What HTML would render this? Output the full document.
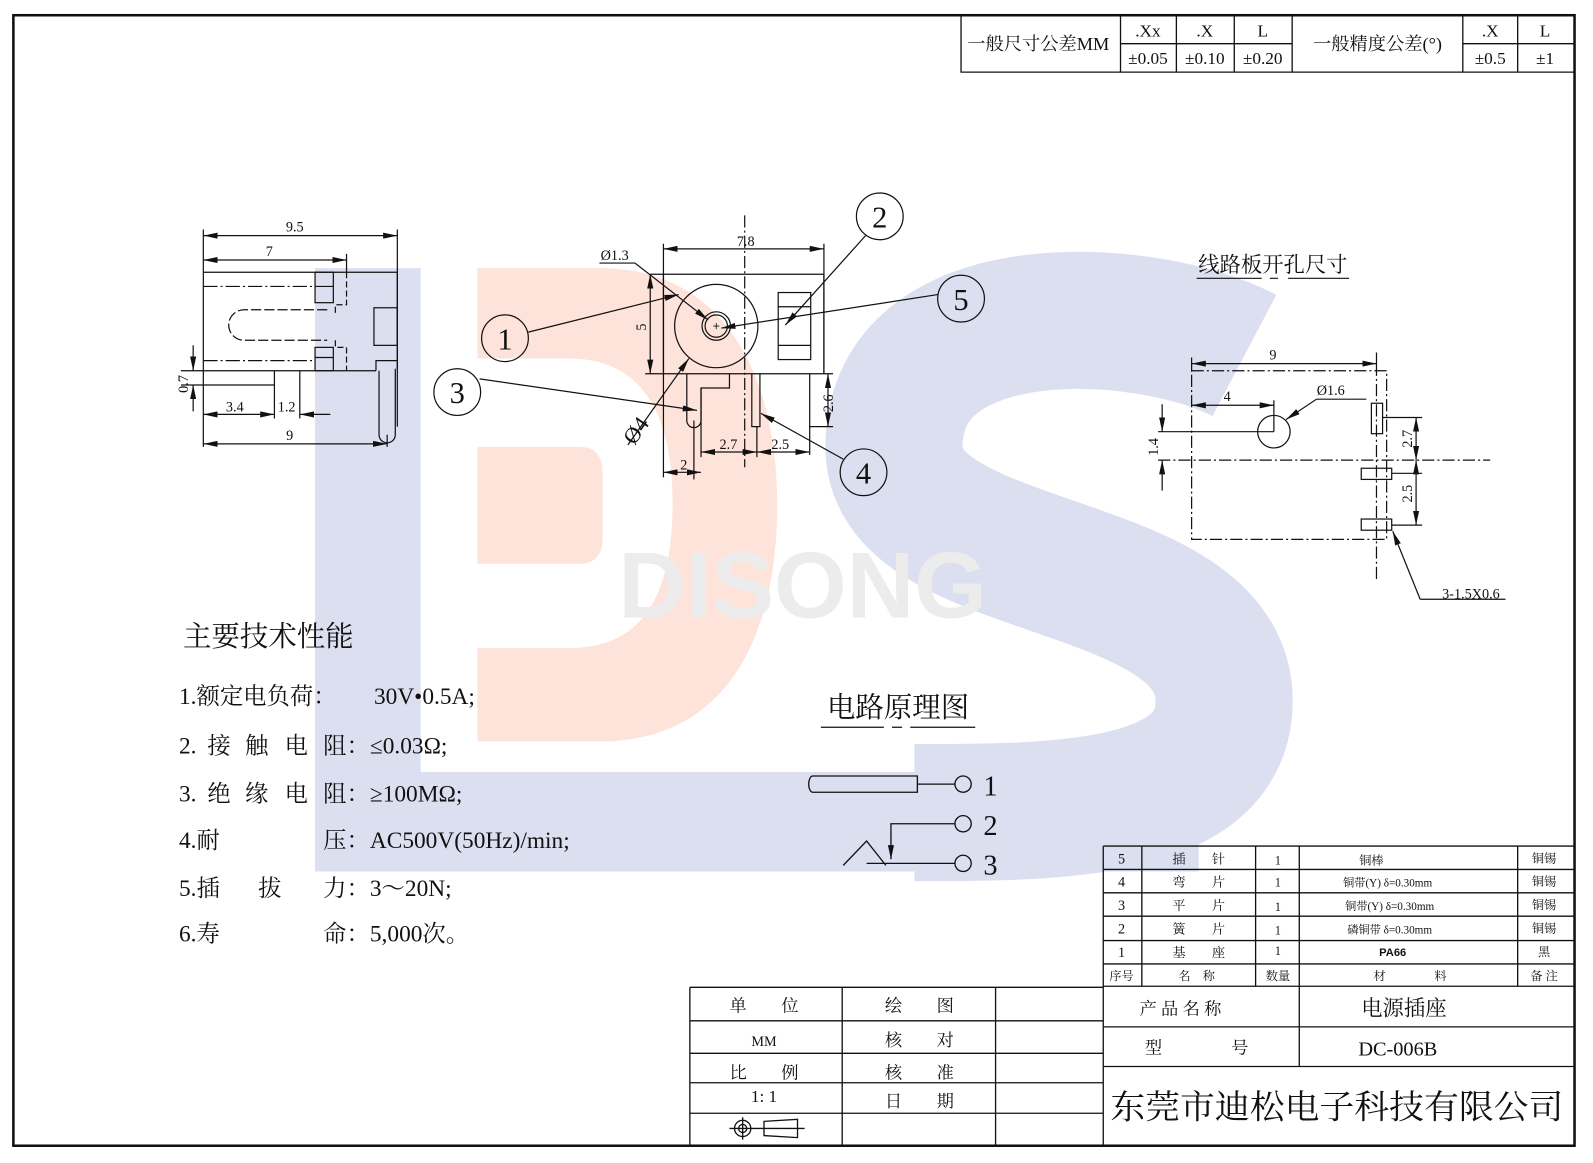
<!DOCTYPE html>
<html><head><meta charset="utf-8"><style>
html,body{margin:0;padding:0;background:#fff;}
svg{display:block;}
text{font-family:"Liberation Serif","Noto Serif CJK SC","Noto Sans CJK SC",serif;fill:#111;}
.c{font-family:"Liberation Sans","Noto Sans CJK SC",sans-serif;}
</style></head><body>
<svg width="1593" height="1163" viewBox="0 0 1568 1145" xmlns="http://www.w3.org/2000/svg">
<defs>
<marker id="a" viewBox="0 0 14 6" refX="14" refY="3" markerWidth="14" markerHeight="6" markerUnits="userSpaceOnUse" orient="auto-start-reverse"><path d="M0,0L14,3L0,6Z" fill="#111"/></marker>
</defs>
<!-- watermark -->
<path d="M470,264H590C720,264 765,380 765,497C765,620 720,730 590,730H470Z M470,353H560C640,353 662,420 662,495C662,575 640,638 560,638H470Z" fill="#fde3d9" fill-rule="evenodd"/>
<path d="M470,440H570Q593,440 593,465V530Q593,555 570,555H470Z" fill="#fde3d9"/>
<rect x="310" y="264" width="104" height="594" fill="#dcdff0"/>
<rect x="310" y="760" width="870" height="98" fill="#dcdff0"/>
<path d="M1225,350C1130,300 880,285 880,440C880,570 1205,545 1205,690C1205,800 1040,800 900,800" fill="none" stroke="#dcdff0" stroke-width="135"/>
<text x="790" y="608" font-size="92" text-anchor="middle" class="c" style="fill:#ececec;font-weight:bold">DISONG</text>

<g stroke="#111" fill="none">
<rect x="13" y="15" width="1537" height="1113" stroke-width="2.5"/>
<path d="M946,15V71H1549 M1103,15V71 M1158,15V71 M1215,15V71 M1272,15V71 M1440,15V71 M1494,15V71 M1103,43H1272 M1440,43H1549" stroke-width="1.3"/>
</g>
<g font-size="17" text-anchor="middle">
<text x="1022" y="49" font-size="18">一般尺寸公差MM</text>
<text x="1130" y="36">.Xx</text><text x="1130" y="63">±0.05</text>
<text x="1186" y="36">.X</text><text x="1186" y="63">±0.10</text>
<text x="1243" y="36">L</text><text x="1243" y="63">±0.20</text>
<text x="1356" y="49" font-size="18">一般精度公差(°)</text>
<text x="1467" y="36">.X</text><text x="1467" y="63">±0.5</text>
<text x="1521" y="36">L</text><text x="1521" y="63">±1</text>
</g>

<!-- left side view -->
<g stroke="#111" fill="none" stroke-width="1.2">
<path d="M200,226V440 M391,226V420 M341,250V268"/>
<path d="M200,232H391" marker-start="url(#a)" marker-end="url(#a)"/>
<path d="M200,256H341" marker-start="url(#a)" marker-end="url(#a)"/>
<path d="M200,268H391V363 M200,365H370"/>
<path d="M200,282H310" stroke-dasharray="14,3,2,3"/>
<path d="M200,355H310" stroke-dasharray="14,3,2,3"/>
<path d="M341,268V300H330V310M330,335V342H341V365" stroke-dasharray="6,3"/>
<path d="M322,305H240A15,15 0 0 0 240,335H322" stroke-dasharray="10,3"/>
<rect x="310" y="268" width="18" height="30"/><path d="M310,282H328"/>
<rect x="310" y="342" width="18" height="23"/><path d="M310,352H328"/>
<rect x="368" y="303" width="23" height="37"/>
<path d="M370,365V355H391 M373,365V428A8,8 0 0 0 389,428V363"/>
<path d="M381,428V440"/>
<path d="M270,365V412 M295,365V412"/>
<path d="M178,365H200 M178,379H270"/>
<path d="M190,340V365" marker-end="url(#a)"/><path d="M190,405V379" marker-end="url(#a)"/>
<path d="M200,408H270" marker-start="url(#a)" marker-end="url(#a)"/>
<path d="M325,408H295" marker-end="url(#a)"/>
<path d="M200,437H381" marker-start="url(#a)" marker-end="url(#a)"/>
</g>
<g font-size="14" text-anchor="middle">
<text x="290" y="228">9.5</text><text x="265" y="252">7</text>
<text x="231" y="405">3.4</text><text x="282" y="405">1.2</text>
<text x="285" y="433">9</text>
<text transform="translate(185,378) rotate(-90)">0.7</text>
</g>

<!-- front view -->
<g stroke="#111" fill="none" stroke-width="1.2">
<path d="M653,240V470 M811,240V368"/>
<path d="M653,245H811" marker-start="url(#a)" marker-end="url(#a)"/>
<path d="M733,212V460" stroke-dasharray="12,3,2,3"/>
<path d="M640,270H811V368 M653,270V368 M635,368H820"/>
<path d="M640,270V368" marker-start="url(#a)" marker-end="url(#a)"/>
<circle cx="705" cy="321" r="41"/><circle cx="705" cy="321" r="14"/><circle cx="705" cy="321" r="11"/>
<path d="M702,321H708M705,318V324" stroke-width="0.8"/>
<rect x="766" y="288" width="32" height="66"/><path d="M766,302H798M766,340H798"/>
<path d="M676,368V414A7,7 0 0 0 690,414V382H718V368"/>
<path d="M683,414V472"/>
<path d="M740,368V420H748V368"/>
<path d="M797,368V420H811 M797,420V448 M811,420H820"/>
<path d="M815,368V420" marker-start="url(#a)" marker-end="url(#a)"/>
<path d="M690,382V450 M745,420V450"/>
<path d="M653,465H690" marker-start="url(#a)" marker-end="url(#a)"/>
<path d="M690,445H745" marker-start="url(#a)" marker-end="url(#a)"/>
<path d="M745,445H797" marker-start="url(#a)" marker-end="url(#a)"/>
<path d="M618,438L678,353" marker-end="url(#a)"/>
<path d="M590,259H625L697,315" marker-end="url(#a)"/>
<circle cx="497" cy="333" r="23"/><circle cx="866" cy="213" r="23"/><circle cx="450" cy="386" r="23"/><circle cx="850" cy="465" r="23"/><circle cx="946" cy="294" r="23"/>
<path d="M520,327L668,290" marker-end="url(#a)"/>
<path d="M852,232L773,320" marker-end="url(#a)"/>
<path d="M472,373L686,404" marker-end="url(#a)"/>
<path d="M830,452L749,407" marker-end="url(#a)"/>
<path d="M923,290L710,323" marker-end="url(#a)"/>
</g>
<g font-size="14" text-anchor="middle">
<text x="734" y="242">7.8</text><text x="605" y="256">Ø1.3</text>
<text transform="translate(636,322) rotate(-90)">5</text>
<text x="673" y="462">2</text><text x="717" y="442">2.7</text><text x="768" y="442">2.5</text>
<text transform="translate(820,397) rotate(-90)">2.6</text>
<text transform="translate(632,428) rotate(-55)" font-size="22">Ø4</text>
</g>
<g font-size="30" text-anchor="middle">
<text x="497" y="344">1</text><text x="866" y="224">2</text><text x="450" y="397">3</text><text x="850" y="476">4</text><text x="946" y="305">5</text>
</g>

<!-- PCB layout -->
<text x="1253" y="268" font-size="21" text-anchor="middle">线路板开孔尺寸</text>
<g stroke="#111" fill="none" stroke-width="1.2">
<path d="M1178,274H1242M1250,274H1258M1268,274H1328"/>
<path d="M1173,352V365 M1355,347V358"/>
<path d="M1173,358H1355" marker-start="url(#a)" marker-end="url(#a)"/>
<path d="M1173,365H1365V531H1173Z" stroke-dasharray="12,3,2,3"/>
<path d="M1355,358V570" stroke-dasharray="12,3,2,3"/>
<path d="M1173,399H1254" marker-start="url(#a)" marker-end="url(#a)"/>
<path d="M1254,394V425"/>
<circle cx="1254" cy="425" r="16"/>
<path d="M1140,425H1254"/>
<path d="M1140,453H1467" stroke-dasharray="12,3,2,3"/>
<path d="M1144,398V425" marker-end="url(#a)"/><path d="M1144,483V453" marker-end="url(#a)"/>
<path d="M1345,393H1296L1266,413" marker-end="url(#a)"/>
<rect x="1350" y="397" width="11" height="30"/>
<rect x="1340" y="461" width="30" height="11"/>
<rect x="1340" y="511" width="30" height="11"/>
<path d="M1361,411H1400 M1370,466H1400 M1370,517H1400"/>
<path d="M1394,411V453" marker-start="url(#a)" marker-end="url(#a)"/>
<path d="M1394,453V517" marker-start="url(#a)" marker-end="url(#a)"/>
<path d="M1398,590L1371,523" marker-end="url(#a)"/>
<path d="M1398,590H1482"/>
</g>
<g font-size="14" text-anchor="middle">
<text x="1253" y="354">9</text><text x="1208" y="395">4</text><text x="1310" y="389">Ø1.6</text>
<text transform="translate(1140,440) rotate(-90)">1.4</text>
<text transform="translate(1390,432) rotate(-90)">2.7</text>
<text transform="translate(1390,486) rotate(-90)">2.5</text>
<text x="1448" y="589">3-1.5X0.6</text>
</g>

<!-- spec -->
<text x="180" y="636" font-size="28">主要技术性能</text>
<g font-size="23">
<text x="176" y="693">1.额定电负荷：</text><text x="368" y="693">30V•0.5A;</text>
<text x="176" y="742">2.</text><text x="204" y="742">接</text><text x="241" y="742">触</text><text x="280" y="742">电</text><text x="318" y="742">阻：≤0.03Ω;</text>
<text x="176" y="789">3.</text><text x="204" y="789">绝</text><text x="241" y="789">缘</text><text x="280" y="789">电</text><text x="318" y="789">阻：≥100MΩ;</text>
<text x="176" y="835">4.耐</text><text x="318" y="835">压：AC500V(50Hz)/min;</text>
<text x="176" y="882">5.插</text><text x="254" y="882">拔</text><text x="318" y="882">力：3～20N;</text>
<text x="176" y="927">6.寿</text><text x="318" y="927">命：5,000次。</text>
</g>

<!-- circuit -->
<text x="884" y="706" font-size="28" text-anchor="middle">电路原理图</text>
<g stroke="#111" fill="none" stroke-width="1.3">
<path d="M808,716H870M878,716H888M896,716H960"/>
<path d="M903,764H800A4,8 0 0 0 800,780H903Z M903,772H940"/>
<circle cx="948" cy="772" r="8"/><circle cx="948" cy="811" r="8"/><circle cx="948" cy="850" r="8"/>
<path d="M940,811H877V846" marker-end="url(#a)"/>
<path d="M853,850H940 M830,852L853,828L872,852"/>
</g>
<g font-size="28"><text x="968" y="783">1</text><text x="968" y="822">2</text><text x="968" y="861">3</text></g>

<!-- parts table -->
<g stroke="#111" fill="none" stroke-width="1.3">
<path d="M1086,833H1549 M1086,856H1549 M1086,879H1549 M1086,902H1549 M1086,926H1549 M1086,949H1549 M1086,971H1549"/>
<path d="M1086,833V1128 M1124,833V971 M1236,833V971 M1279,833V1050 M1494,833V971"/>
<path d="M1086,1011H1549 M1086,1050H1549"/>
<path d="M679,972H1086 M679,1005H1086 M679,1037H1086 M679,1066H1086 M679,1096H1086 M679,972V1128 M829,972V1128 M980,972V1128"/>
<circle cx="731" cy="1111" r="8"/><circle cx="731" cy="1111" r="4"/>
<path d="M718,1111H792 M731,1100V1122 M752,1104L785,1102V1120L752,1118Z"/>
</g>
<g font-size="14" text-anchor="middle">
<text x="1104" y="850">5</text><text x="1104" y="873">4</text><text x="1104" y="896">3</text><text x="1104" y="919">2</text><text x="1104" y="942">1</text>
<text x="1180" y="850" font-size="13">插　　针</text><text x="1180" y="873" font-size="13">弯　　片</text><text x="1180" y="896" font-size="13">平　　片</text><text x="1180" y="919" font-size="13">簧　　片</text><text x="1180" y="942" font-size="13">基　　座</text>
<text x="1258" y="851" font-size="12">1</text><text x="1258" y="873" font-size="12">1</text><text x="1258" y="897" font-size="12">1</text><text x="1258" y="920" font-size="12">1</text><text x="1258" y="940" font-size="12">1</text>
<text x="1350" y="851" font-size="12">铜棒</text><text x="1366" y="873" font-size="11">铜带(Y) δ=0.30mm</text><text x="1368" y="896" font-size="11">铜带(Y) δ=0.30mm</text><text x="1368" y="919" font-size="11">磷铜带 δ=0.30mm</text><text x="1371" y="941" font-size="11" class="c" style="font-weight:bold">PA66</text>
<text x="1520" y="849" font-size="12">铜锡</text><text x="1520" y="872" font-size="12">铜锡</text><text x="1520" y="895" font-size="12">铜锡</text><text x="1520" y="918" font-size="12">铜锡</text><text x="1520" y="941" font-size="12">黑</text>
<text x="1104" y="965" font-size="12">序号</text><text x="1178" y="965" font-size="12">名　称</text><text x="1258" y="965" font-size="12">数量</text><text x="1388" y="965" font-size="12">材　　　　料</text><text x="1520" y="965" font-size="12">备 注</text>
</g>
<g font-size="17" text-anchor="middle">
<text x="752" y="996">单　　位</text><text x="752" y="1030" font-size="14">MM</text><text x="752" y="1062">比　　例</text><text x="752" y="1085">1:  1</text>
<text x="905" y="996">绘　　图</text><text x="905" y="1030">核　　对</text><text x="905" y="1062">核　　准</text><text x="905" y="1090">日　　期</text>
<text x="1162" y="999">产 品 名 称</text><text x="1382" y="1000" font-size="21">电源插座</text>
<text x="1178" y="1037">型　　　　号</text><text x="1376" y="1039" font-size="20">DC-006B</text>
<text x="1316" y="1101" font-size="33" textLength="446" lengthAdjust="spacingAndGlyphs">东莞市迪松电子科技有限公司</text>
</g>
</svg>
</body></html>
